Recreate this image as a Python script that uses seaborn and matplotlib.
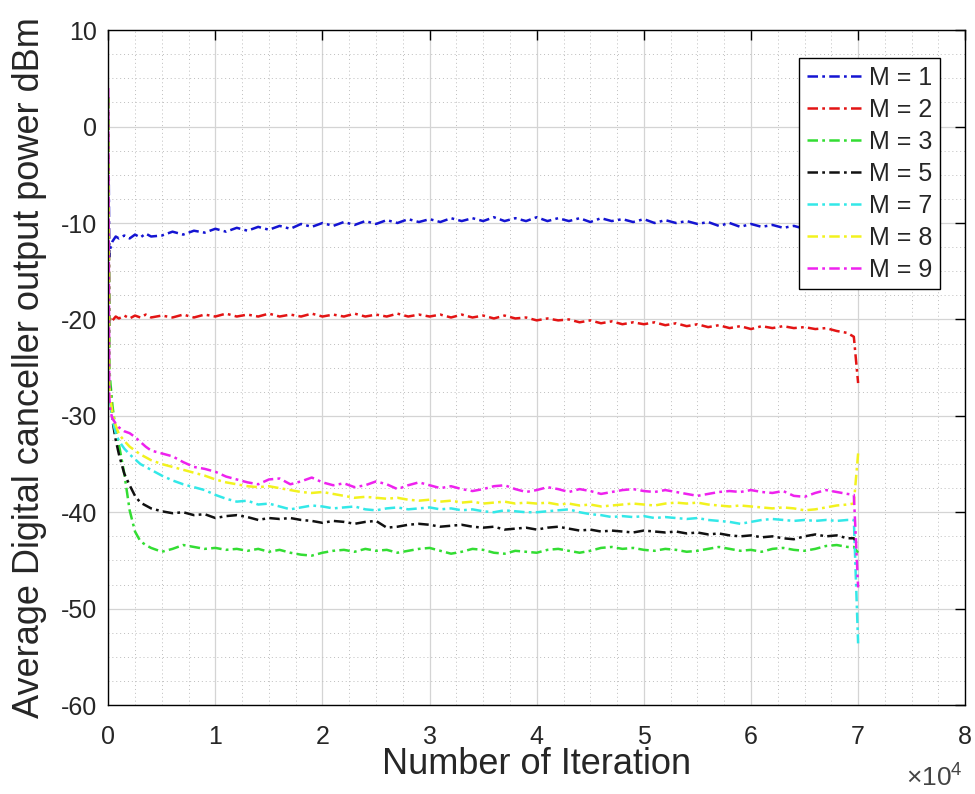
import matplotlib
matplotlib.use("Agg")
import matplotlib.pyplot as plt
import pandas as pd
import seaborn as sns
from matplotlib.ticker import MultipleLocator, FuncFormatter
from matplotlib.lines import Line2D

# ---------------- data ----------------
iterations = [0, 100, 200, 400, 700, 1000, 1500, 2000, 2500, 3000, 3500, 4000,
              5000, 6000, 7000, 8000, 9000,
              10000, 11000, 12000, 13000, 14000, 15000, 16000, 17000, 18000, 19000,
              20000, 21000, 22000, 23000, 24000, 25000, 26000, 27000, 28000, 29000,
              30000, 31000, 32000, 33000, 34000, 35000, 36000, 37000, 38000, 39000,
              40000, 41000, 42000, 43000, 44000, 45000, 46000, 47000, 48000, 49000,
              50000, 51000, 52000, 53000, 54000, 55000, 56000, 57000, 58000, 59000,
              60000, 61000, 62000, 63000, 64000, 65000, 66000, 67000, 68000, 69000,
              69600, 70000]

m1 = [3, -13.5, -12.6, -11.9, -11.4, -11.6, -11.3, -11.6, -11.2, -11.5, -11.1, -11.4,
      -11.3, -10.9, -11.2, -10.8, -11.0,
      -10.6, -10.9, -10.5, -10.8, -10.4, -10.7, -10.3, -10.6, -10.1, -10.4,
      -10.0, -10.3, -9.9, -10.2, -9.8, -10.1, -9.7, -10.0, -9.6, -9.9,
      -9.6, -9.9, -9.5, -9.8, -9.5, -9.8, -9.4, -9.8, -9.5, -9.8,
      -9.4, -9.8, -9.5, -9.8, -9.5, -9.9, -9.5, -9.8, -9.6, -9.9,
      -9.6, -10.0, -9.7, -10.0, -9.8, -10.1, -9.9, -10.3, -10.0, -10.4,
      -10.1, -10.4, -10.2, -10.5, -10.3, -10.6, -10.3, -10.6, -10.4, -10.7,
      -10.6, -12.0]

m2 = [3, -20.6, -19.8, -20.1, -19.7, -19.9, -19.6, -19.9, -19.6, -19.8, -19.5, -19.8,
      -19.6, -19.8, -19.5, -19.8, -19.5,
      -19.7, -19.4, -19.7, -19.5, -19.7, -19.4, -19.7, -19.5, -19.7, -19.4,
      -19.7, -19.5, -19.7, -19.4, -19.7, -19.5, -19.7, -19.4, -19.7, -19.5,
      -19.7, -19.5, -19.8, -19.5, -19.8, -19.6, -19.9, -19.6, -19.9, -19.8,
      -20.1, -19.9, -20.1, -20.0, -20.3, -20.1, -20.4, -20.2, -20.5, -20.3,
      -20.5, -20.3, -20.6, -20.4, -20.7, -20.5, -20.8, -20.6, -20.9, -20.7,
      -21.0, -20.7, -20.9, -20.7, -20.9, -20.8, -21.0, -20.9, -21.2, -21.4,
      -21.8, -26.6]

m3 = [3, -25.0, -26.5, -29.0, -31.5, -33.0, -36.0, -39.8, -42.0, -43.0, -43.4, -43.7,
      -44.1, -43.8, -43.4, -43.6, -43.8,
      -43.7, -43.9, -43.8, -44.0, -43.8, -44.1, -43.9, -44.2, -44.4, -44.5,
      -44.2, -44.0, -43.9, -44.1, -43.8, -44.0, -43.9, -44.2, -44.0, -43.8,
      -43.7, -44.0, -44.3, -44.1, -43.8, -43.9, -44.2, -44.3, -44.0, -44.1,
      -44.2, -43.9, -43.8, -44.0, -44.2, -44.0, -43.7, -43.6, -43.8, -43.7,
      -43.9, -44.0, -43.8, -43.9, -44.1, -44.0, -43.8, -43.6, -43.8, -44.0,
      -43.9, -44.1, -43.8, -43.7, -43.9, -44.0, -43.8, -43.5, -43.4, -43.6,
      -43.6, -44.2]

m5 = [3, -26.0, -28.0, -30.5, -32.5, -34.0, -36.0, -37.2, -38.3, -39.0, -39.3, -39.6,
      -39.9, -40.1, -40.0, -40.3, -40.2,
      -40.6, -40.4, -40.3, -40.5, -40.8, -40.6, -40.7, -40.6, -40.8, -40.9,
      -41.1, -40.9, -41.0, -41.2, -41.0, -40.9, -41.6, -41.5, -41.3, -41.2,
      -41.3, -41.5, -41.4, -41.3, -41.5, -41.6, -41.5, -41.8, -41.7, -41.6,
      -41.8, -41.6, -41.5, -41.7, -41.9, -41.8, -42.0, -41.9, -42.0, -42.1,
      -41.9, -42.0, -42.1, -42.0, -42.2, -42.1, -42.3, -42.2, -42.4, -42.5,
      -42.4, -42.6, -42.5, -42.7, -42.8, -42.5, -42.3, -42.5, -42.4, -42.7,
      -42.7, -43.5]

m7 = [3, -27.0, -28.5, -30.5, -31.8, -32.6, -33.4, -34.0, -34.5, -35.0, -35.3, -35.6,
      -36.2, -36.7, -37.1, -37.4, -37.7,
      -38.2, -38.6, -38.9, -38.8, -39.2, -39.1, -39.4, -39.7, -39.5, -39.3,
      -39.4, -39.6, -39.5, -39.4, -39.7, -39.8, -39.6, -39.5, -39.7, -39.6,
      -39.5, -39.7, -39.6, -39.8, -39.7, -39.9, -40.0, -39.8, -39.9, -40.0,
      -40.0, -39.9, -39.8, -39.7, -40.0, -40.2, -40.3, -40.5, -40.4, -40.5,
      -40.4, -40.6, -40.5, -40.6, -40.7, -40.6, -40.8, -40.9, -41.0, -41.2,
      -41.0, -40.8, -40.7, -40.8, -40.9, -40.8, -40.9, -40.8, -40.9, -40.8,
      -40.8, -53.6]

m8 = [3, -27.0, -28.0, -29.8, -31.0, -31.9, -32.6, -33.2, -33.6, -34.0, -34.3, -34.6,
      -35.0, -35.3, -35.6, -35.9, -36.2,
      -36.6, -36.9, -37.1, -37.3, -37.4, -37.3, -37.5, -37.7, -37.9, -38.0,
      -37.9, -38.1, -38.3, -38.5, -38.4, -38.5, -38.6, -38.5, -38.7, -38.8,
      -38.7, -38.9, -38.8, -39.0, -38.9, -39.1, -39.0, -38.9, -39.1, -39.0,
      -39.1, -39.0, -39.2, -39.1, -39.3, -39.2, -39.4, -39.3, -39.2, -39.1,
      -39.2, -39.3, -39.1, -39.0, -39.1, -39.0, -39.2, -39.3, -39.4, -39.3,
      -39.4, -39.5, -39.6, -39.5, -39.6, -39.8, -39.7, -39.5, -39.3, -39.2,
      -39.1, -33.9]

m9 = [4, -28.0, -29.5, -30.3, -30.8, -31.2, -31.6, -31.8, -32.2, -32.7, -33.2, -33.6,
      -33.9, -34.2, -34.8, -35.3, -35.5,
      -35.8, -36.3, -36.6, -36.9, -37.1, -36.6, -36.5, -37.1, -36.8, -36.4,
      -36.9, -37.2, -37.0, -37.4, -37.2, -36.8, -37.1, -37.6, -37.2, -36.9,
      -37.2, -37.5, -37.3, -37.6, -37.8, -37.6, -37.3, -37.2, -37.6, -37.9,
      -37.7, -37.4, -37.6, -37.9, -37.6, -37.8, -38.1, -37.9, -37.7, -37.6,
      -37.8, -37.9, -37.7, -37.9, -38.1, -38.3, -38.1, -37.9, -37.8, -37.9,
      -37.7, -37.9, -38.0, -37.8, -38.3, -38.4, -38.0, -37.7, -37.9, -38.1,
      -38.2, -47.8]

labels = ["M = 1", "M = 2", "M = 3", "M = 5", "M = 7", "M = 8", "M = 9"]
series = [m1, m2, m3, m5, m7, m8, m9]
colors = ["#1414d2", "#e31414", "#33dd33", "#111111", "#33e8e8", "#f2f21e", "#ee22ee"]

# ---------------- styling ----------------
sns.set_style("white")
plt.rcParams["font.family"] = ["Liberation Sans", "DejaVu Sans"]
plt.rcParams["axes.unicode_minus"] = False
plt.rcParams["mathtext.fontset"] = "custom"
plt.rcParams["mathtext.rm"] = "Liberation Sans"
plt.rcParams["mathtext.it"] = "Liberation Sans:italic"

frames = []
for lab, vals in zip(labels, series):
    assert len(vals) == len(iterations), lab
    frames.append(pd.DataFrame({"iter": iterations, "power": vals, "M": lab}))
df = pd.concat(frames, ignore_index=True)

fig = plt.figure(figsize=(9.75, 7.94), dpi=100)
ax = fig.add_axes([0.111, 0.112, 0.879, 0.850])

dash = (0, (4.2, 1.7, 1.1, 1.7))
lw = 1.8
sns.lineplot(data=df, x="iter", y="power", hue="M", hue_order=labels,
             palette=dict(zip(labels, colors)), estimator=None, sort=False,
             linewidth=lw, ax=ax, legend=False)
for ln in ax.lines:
    ln.set_linestyle(dash)

ax.set_xlim(0, 80000)
ax.set_ylim(-60, 10)
ax.xaxis.set_major_locator(MultipleLocator(10000))
ax.xaxis.set_minor_locator(MultipleLocator(2500))
ax.yaxis.set_major_locator(MultipleLocator(10))
ax.yaxis.set_minor_locator(MultipleLocator(2.5))
ax.xaxis.set_major_formatter(FuncFormatter(lambda v, p: f"{int(round(v / 10000))}"))

ax.set_axisbelow(True)
ax.grid(which="major", color="#d4d4d4", linewidth=0.9, linestyle="-")
ax.grid(which="minor", color="#bdbdbd", linewidth=0.7, linestyle=(0, (1, 3)))

for sp in ax.spines.values():
    sp.set_visible(True)
    sp.set_color("black")
    sp.set_linewidth(1.0)

ax.tick_params(which="major", direction="in", top=True, right=True,
               length=7, width=1, labelsize=18, colors="black")
ax.tick_params(axis="x", which="major", pad=14)
ax.tick_params(axis="y", which="major", pad=8)
ax.tick_params(which="minor", length=0)
for t in ax.get_xticklabels() + ax.get_yticklabels():
    t.set_color("#262626")

ax.set_xlabel("Number of Iteration", fontsize=26, color="#262626")
ax.set_ylabel("Average Digital canceller output power dBm", fontsize=26, color="#262626")
ax.xaxis.set_label_coords(0.5, -0.062)
ax.yaxis.set_label_coords(-0.072, 0.5)

ax.text(0.9965, -0.1215, r"$\times\mathrm{10}^{\mathrm{4}}$", transform=ax.transAxes,
        ha="right", va="baseline", fontsize=19, color="#444444")

handles = [Line2D([], [], color=c, linewidth=lw, linestyle=dash) for c in colors]
leg = ax.legend(handles, labels, loc="upper right", bbox_to_anchor=(0.9708, 0.9585),
                borderaxespad=0, fontsize=18, frameon=True, fancybox=False,
                edgecolor="black", framealpha=1, handlelength=2.3,
                handletextpad=0.2, labelspacing=0.32, borderpad=0.3)
leg.get_frame().set_linewidth(1.0)
for t in leg.get_texts():
    t.set_color("#262626")

fig.savefig("out.png", dpi=100)
